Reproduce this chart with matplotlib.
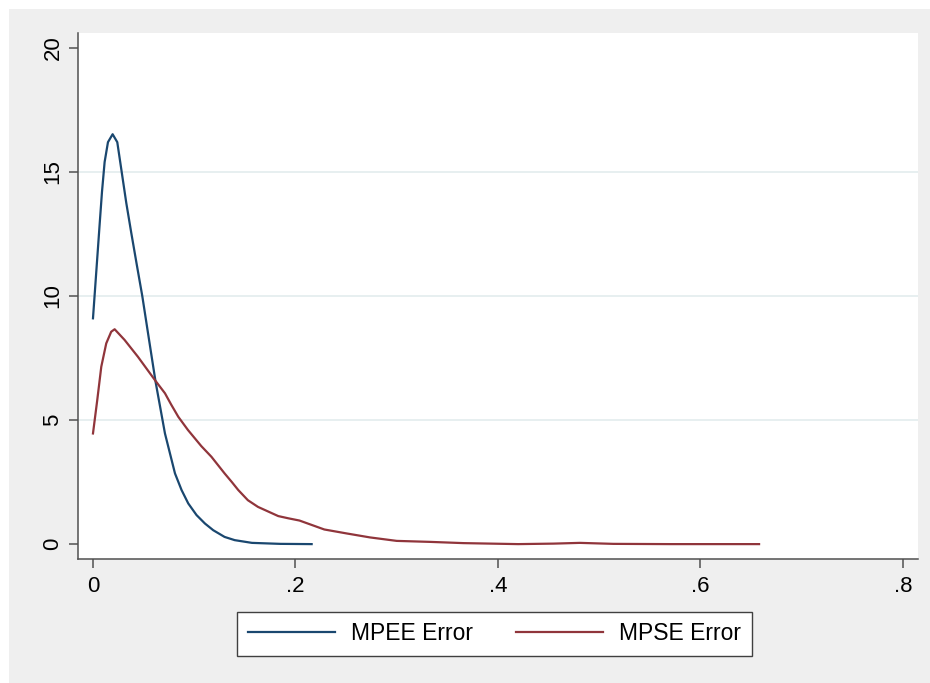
import matplotlib.pyplot as plt
from matplotlib.patches import Rectangle

plt.rcParams['font.family'] = ['Liberation Sans', 'DejaVu Sans']

# MPEE error density
mpee_x = [0.0, 0.0066, 0.0089, 0.0115, 0.0148, 0.0194, 0.024, 0.028, 0.0329,
          0.0378, 0.0431, 0.0487, 0.054, 0.0618, 0.0711, 0.081, 0.0875, 0.0941,
          0.1023, 0.1106, 0.1188, 0.130, 0.140, 0.157, 0.185, 0.216]
mpee_y = [9.1, 12.9, 14.2, 15.4, 16.2, 16.52, 16.2, 15.1, 13.75,
          12.55, 11.3, 10.0, 8.6, 6.55, 4.46, 2.85, 2.18, 1.64,
          1.17, 0.83, 0.56, 0.29, 0.16, 0.05, 0.01, 0.0]

# MPSE error density
mpse_x = [0.0, 0.0042, 0.0082, 0.0131, 0.018, 0.0214, 0.0312, 0.0444, 0.0612,
          0.0711, 0.0773, 0.0843, 0.0938, 0.107, 0.117, 0.130, 0.137, 0.1435,
          0.153, 0.163, 0.183, 0.193, 0.204, 0.2285, 0.2506, 0.2736, 0.30,
          0.333, 0.366, 0.42, 0.455, 0.481, 0.514, 0.57, 0.658]
mpse_y = [4.46, 5.8, 7.15, 8.09, 8.56, 8.66, 8.23, 7.55, 6.61,
          6.08, 5.62, 5.13, 4.6, 3.95, 3.52, 2.85, 2.51, 2.18,
          1.77, 1.50, 1.13, 1.04, 0.95, 0.59, 0.43, 0.27, 0.13,
          0.09, 0.04, 0.0, 0.02, 0.05, 0.01, 0.0, 0.0]

xticks = [0, 0.2, 0.4, 0.6, 0.8]
xticklabels = ['0', '.2', '.4', '.6', '.8']
yticks = [0, 5, 10, 15, 20]

fig = plt.figure(figsize=(9.3, 6.83), dpi=100)
fig.patch.set_facecolor('white')
# grey graph region
fig.patches.append(Rectangle((9 / 930, 0), 1, 1 - 9 / 683, transform=fig.transFigure,
                             facecolor='#efefef', edgecolor='none', zorder=-10))

ax = fig.add_axes([78 / 930, 1 - 559 / 683, 840 / 930, 526 / 683])
ax.set_facecolor('white')

l1, = ax.plot(mpee_x, mpee_y, color='#1a476f', lw=1.6, label='MPEE Error',
              solid_joinstyle='round')
l2, = ax.plot(mpse_x, mpse_y, color='#90353b', lw=1.6, label='MPSE Error',
              solid_joinstyle='round')

ax.set_xlim(-0.0148, 0.815)
ax.set_ylim(-0.6, 20.6)
ax.set_xticks(xticks)
ax.set_xticklabels(xticklabels)
ax.set_yticks(yticks)
ax.set_yticklabels([str(v) for v in yticks], rotation=90, va='center')
ax.tick_params(labelsize=16, length=6.5, width=1.1, color='#505050', pad=6)
ax.tick_params(axis='y', pad=4)

for y in [5, 10, 15]:
    ax.axhline(y, color='#e3ecee', lw=1.2, zorder=0)

for s in ['top', 'right']:
    ax.spines[s].set_visible(False)
for s in ['left', 'bottom']:
    ax.spines[s].set_color('#505050')
    ax.spines[s].set_linewidth(1.1)

fig.legend(handles=[l1, l2], loc='center', bbox_to_anchor=(494.5 / 930, 1 - 634 / 683),
           ncol=2, fontsize=16.5, frameon=True, fancybox=False, edgecolor='#404040',
           framealpha=1, handlelength=3.8, handletextpad=0.7, columnspacing=1.9,
           borderpad=0.45)

fig.savefig('out.png', dpi=100, facecolor=fig.get_facecolor())
